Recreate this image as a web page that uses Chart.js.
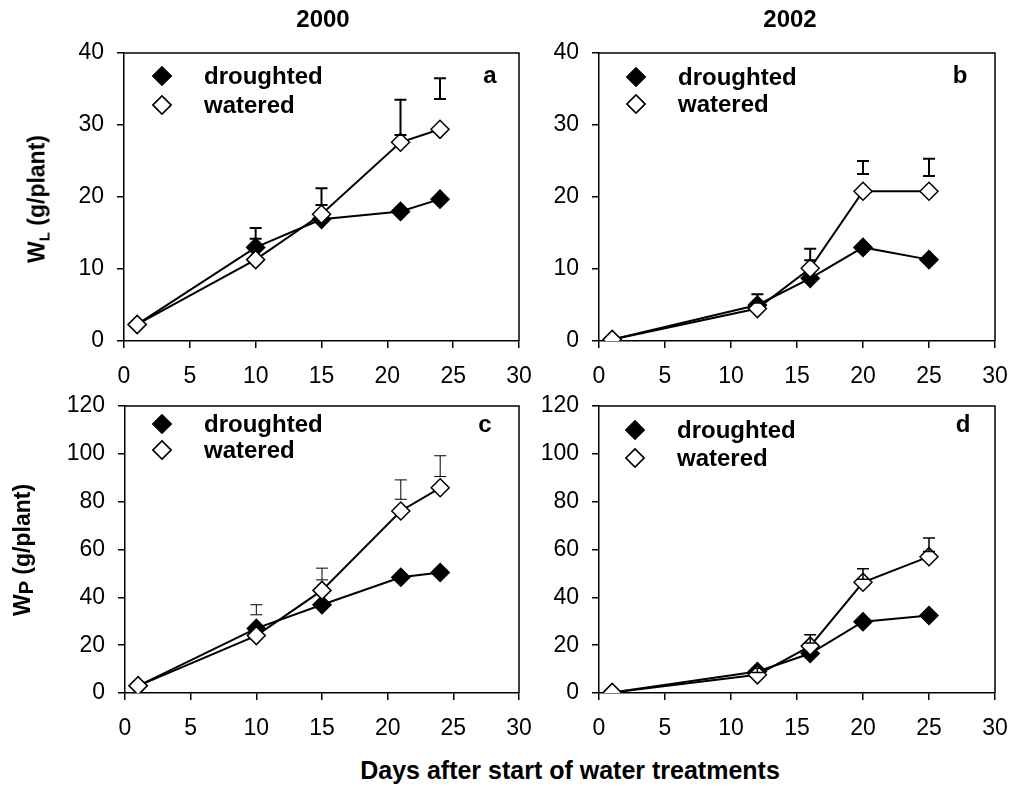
<!DOCTYPE html>
<html>
<head>
<meta charset="utf-8">
<script src="https://cdn.jsdelivr.net/npm/chart.js@4/dist/chart.umd.min.js"></script>
<style>
  body { margin: 0; background: #fff; font-family: "Liberation Sans", Arial, sans-serif; }
  #wrap { position: relative; width: 1011px; height: 786px; overflow: hidden; }
  canvas { position: absolute; }
  .txt { position: absolute; color: #000; font-weight: bold; white-space: nowrap; }
  .ytitle { transform: translate(-50%, -50%) rotate(-90deg); font-size: 23px; }
  .ytitle sub { font-size: 15px; vertical-align: -5px; }
</style>
</head>
<body>
<div id="wrap">
  <canvas id="pa"></canvas>
  <canvas id="pb"></canvas>
  <canvas id="pc"></canvas>
  <canvas id="pd"></canvas>
  <div class="txt" style="left:323px;top:19px;transform:translate(-50%,-50%);font-size:24px;">2000</div>
  <div class="txt" style="left:790px;top:19px;transform:translate(-50%,-50%);font-size:24px;">2002</div>
  <div class="txt ytitle" style="left:38px;top:199px;">W<sub>L</sub> (g/plant)</div>
  <div class="txt ytitle" style="left:23px;top:550px;">W<sub style="font-size:20px;vertical-align:-3px;">P</sub> (g/plant)</div>
  <div class="txt" style="left:570px;top:770px;transform:translate(-50%,-50%);font-size:25px;">Days after start of water treatments</div>
</div>
<script>
// days of sampling
const days2000 = [1, 10, 15, 21, 24];
const days2002 = [1, 12, 16, 20, 25];

// leaf dry weight W_L (g/plant)
const wlDrought2000 = [2.3, 13.0, 16.9, 18.0, 19.7];
const wlWater2000 = [2.3, 11.3, 17.6, 27.6, 29.4];
const wlBarLow2000 = [null, 14.2, 18.9, 28.6, 33.6];
const wlBarHigh2000 = [null, 15.7, 21.2, 33.5, 36.5];

const wlDrought2002 = [0.2, 5.0, 8.7, 13.0, 11.3];
const wlWater2002 = [0.2, 4.5, 10.1, 20.8, 20.8];
const wlBarLow2002 = [null, 5.3, 11.2, 23.2, 22.9];
const wlBarHigh2002 = [null, 6.5, 12.8, 25.0, 25.3];

// plant dry weight W_P (g/plant)
const wpDrought2000 = [3.0, 27.0, 36.9, 48.4, 50.4];
const wpWater2000 = [3.0, 24.0, 42.9, 76.1, 85.8];
const wpBarLow2000 = [null, 32.7, 47.3, 81.0, 90.5];
const wpBarHigh2000 = [null, 36.9, 52.2, 89.1, 99.2];

const wpDrought2002 = [0.2, 9.0, 16.5, 29.8, 32.4];
const wpWater2002 = [0.2, 7.6, 19.6, 46.3, 57.0];
const wpBarLow2002 = [null, 8.6, 20.9, 47.6, 59.2];
const wpBarHigh2002 = [null, 10.4, 24.4, 52.0, 64.8];

const seriesNames = ['droughted', 'watered'];
const xTicks = [0, 5, 10, 15, 20, 25, 30];

const FONT = '"Liberation Sans", Arial, sans-serif';
const PAD_L = 80, PAD_T = 40, PAD_R = 40, PAD_B = 50;

function pts(xs, ys) {
  return xs.map((x, i) => ({ x, y: ys[i] }));
}

// frame, error bars, legend and panel letter
const panelDeco = {
  id: 'panelDeco',
  afterDatasetsDraw(chart, args, opts) {
    const { ctx, chartArea: a, scales } = chart;
    ctx.save();
    // error bars
    ctx.strokeStyle = '#000';
    ctx.lineWidth = opts.barWidth;
    opts.barX.forEach((x, i) => {
      if (opts.barLow[i] == null) return;
      const px = scales.x.getPixelForValue(x);
      const y1 = scales.y.getPixelForValue(opts.barLow[i]);
      const y2 = scales.y.getPixelForValue(opts.barHigh[i]);
      ctx.beginPath();
      ctx.moveTo(px, y1); ctx.lineTo(px, y2);
      ctx.moveTo(px - 6, y1); ctx.lineTo(px + 6, y1);
      ctx.moveTo(px - 6, y2); ctx.lineTo(px + 6, y2);
      ctx.stroke();
    });
    // top and right frame
    ctx.lineWidth = 1.5;
    ctx.beginPath();
    ctx.moveTo(a.left, a.top); ctx.lineTo(a.right, a.top); ctx.lineTo(a.right, a.bottom);
    ctx.stroke();
    // legend
    const lg = opts.legend;
    ctx.font = 'bold 24px ' + FONT;
    ctx.textBaseline = 'middle';
    chart.data.datasets.forEach((ds, i) => {
      const y = a.top + lg.rows[i];
      Chart.helpers.drawPoint(ctx, {
        pointStyle: 'rectRot', radius: 9, rotation: 0, borderWidth: 1.5
      }, a.left + lg.mx, y);
      ctx.fillStyle = ds.pointBackgroundColor;
      ctx.strokeStyle = '#000';
      ctx.lineWidth = 1.5;
      ctx.fill();
      ctx.stroke();
      ctx.fillStyle = '#000';
      ctx.textAlign = 'left';
      ctx.fillText(ds.label, a.left + lg.tx, y + 1);
    });
    // panel letter
    ctx.textAlign = 'center';
    ctx.fillText(opts.letter, a.right - opts.letterPos[0], a.top + opts.letterPos[1]);
    ctx.restore();
  }
};

function makePanel(id, area, days, drought, water, barLow, barHigh, yMax, yStep, deco) {
  const el = document.getElementById(id);
  const w = area.right - area.left + PAD_L + PAD_R;
  const h = area.bottom - area.top + PAD_T + PAD_B;
  el.style.left = (area.left - PAD_L) + 'px';
  el.style.top = (area.top - PAD_T) + 'px';
  el.style.width = w + 'px';
  el.style.height = h + 'px';
  el.width = w; el.height = h;

  const common = {
    showLine: true,
    borderColor: '#000',
    borderWidth: 2,
    pointStyle: 'rectRot',
    pointRadius: 9,
    pointHoverRadius: 9,
    pointBorderColor: '#000',
    pointBorderWidth: 1.5
  };

  new Chart(el.getContext('2d'), {
    type: 'scatter',
    data: {
      datasets: [
        { ...common, label: seriesNames[0], data: pts(days, drought), pointBackgroundColor: '#000', order: 1 },
        { ...common, label: seriesNames[1], data: pts(days, water), pointBackgroundColor: '#fff', order: 0 }
      ]
    },
    options: {
      responsive: false,
      animation: false,
      events: [],
      layout: { padding: { left: 0, top: PAD_T, right: PAD_R, bottom: 0 } },
      plugins: {
        legend: { display: false },
        tooltip: { enabled: false },
        panelDeco: {
          barX: days, barLow, barHigh,
          barWidth: deco.barWidth,
          legend: deco.legend,
          letter: deco.letter,
          letterPos: deco.letterPos
        }
      },
      scales: {
        x: {
          type: 'linear', min: 0, max: 30,
          afterBuildTicks: s => { s.ticks = xTicks.map(v => ({ value: v })); },
          afterFit: s => { s.height = PAD_B; },
          grid: { drawOnChartArea: false, drawTicks: true, tickLength: 7, color: '#000', lineWidth: 1.5 },
          border: { display: true, color: '#000', width: 1.5 },
          ticks: { color: '#000', font: { family: FONT, size: 23 }, padding: 15, maxRotation: 0 }
        },
        y: {
          type: 'linear', min: 0, max: yMax,
          ticks: { stepSize: yStep, color: '#000', font: { family: FONT, size: 23 }, padding: 13 },
          afterFit: s => { s.width = PAD_L; },
          grid: { drawOnChartArea: false, drawTicks: true, tickLength: 7, color: '#000', lineWidth: 1.5 },
          border: { display: true, color: '#000', width: 1.5 }
        }
      }
    },
    plugins: [panelDeco]
  });
}

makePanel('pa', { left: 124, right: 519, top: 53, bottom: 341 },
  days2000, wlDrought2000, wlWater2000, wlBarLow2000, wlBarHigh2000, 40, 10,
  { barWidth: 2, legend: { mx: 38, tx: 80, rows: [23, 52] }, letter: 'a', letterPos: [29, 23] });

makePanel('pb', { left: 599, right: 995, top: 53, bottom: 341 },
  days2002, wlDrought2002, wlWater2002, wlBarLow2002, wlBarHigh2002, 40, 10,
  { barWidth: 2, legend: { mx: 37, tx: 79, rows: [24, 51] }, letter: 'b', letterPos: [35, 23] });

makePanel('pc', { left: 125, right: 519, top: 406, bottom: 693 },
  days2000, wpDrought2000, wpWater2000, wpBarLow2000, wpBarHigh2000, 120, 20,
  { barWidth: 1, legend: { mx: 37, tx: 79, rows: [18, 44] }, letter: 'c', letterPos: [34, 19] });

makePanel('pd', { left: 599, right: 995, top: 406, bottom: 693 },
  days2002, wpDrought2002, wpWater2002, wpBarLow2002, wpBarHigh2002, 120, 20,
  { barWidth: 1.5, legend: { mx: 36, tx: 78, rows: [24, 52] }, letter: 'd', letterPos: [32, 19] });
</script>
</body>
</html>
